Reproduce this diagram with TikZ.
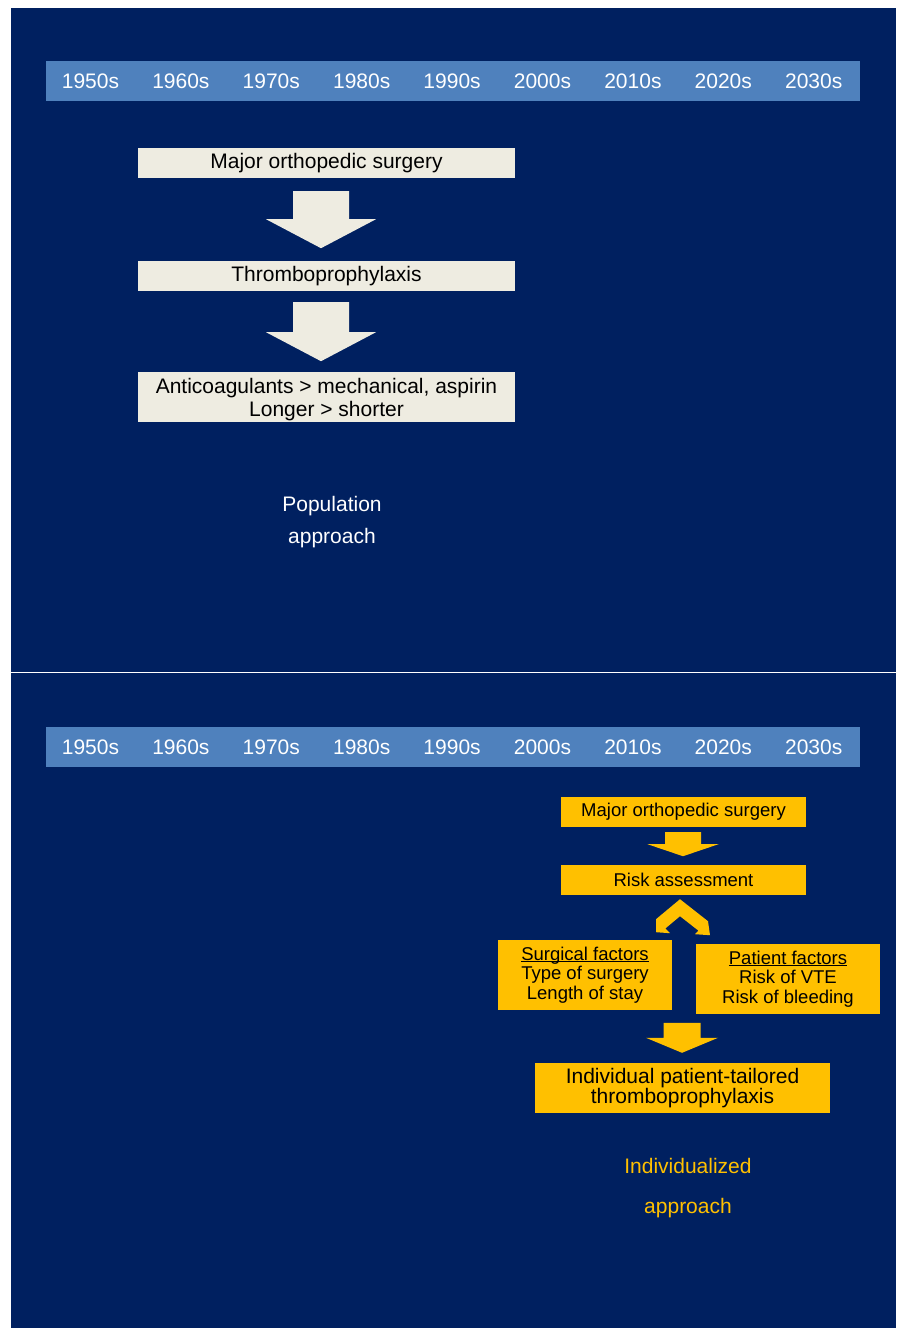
\documentclass[tikz,border=0pt]{standalone}
\usepackage{fontspec}
\setmainfont{Liberation Sans}
\usetikzlibrary{positioning}
\definecolor{navy}{HTML}{002060}
\definecolor{barblue}{HTML}{4F81BD}
\definecolor{cream}{HTML}{EEECE1}
\definecolor{gold}{HTML}{FFC000}
\newcommand{\ulbox}[1]{\setbox0=\hbox{#1}\rlap{\rule[-2pt]{\wd0}{1pt}}\box0}
\tikzset{
    yearlbl/.style={text=white,inner sep=0pt,font=\fontsize{21}{24}\selectfont},
    creambox/.style={fill=cream,minimum width=377pt,inner sep=0pt,align=center,font=\fontsize{21}{23}\selectfont},
    goldbox/.style={fill=gold,inner sep=0pt,align=center,font=\fontsize{18.5}{19.6}\selectfont},
}
\begin{document}
\begin{tikzpicture}[x=1pt,y=-1pt]
        \useasboundingbox (0,0) rectangle (898,1328);
        \fill[white] (0,0) rectangle (898,1328);
        \fill[navy] (11,8) rectangle (896,672);
        \fill[navy] (11,673) rectangle (896,1328);
        \foreach \by/\nm in {81/top,747/bot}{
            \node[fill=barblue,minimum width=814pt,minimum height=40pt,inner sep=0pt] (bar\nm) at (453,\by) {};
            \foreach \yr [count=\i from 0] in {1950,1960,...,2030}
                \node[yearlbl] (\nm\yr) at (90.5+90.4*\i,\by) {\yr s};
        }
        \node[creambox,minimum height=30pt] (maj) at (326.5,163) {Major orthopedic surgery};
        \node[creambox,minimum height=30pt] (thr) at (326.5,276) {Thromboprophylaxis};
        \node[creambox,minimum height=50pt,text depth=-1.5pt] (anti) at (326.5,397) {Anticoagulants > mechanical, aspirin\\Longer > shorter};
        \path (maj.south) ++(-5.5,13) coordinate (a1);
        \fill[cream] (a1) ++(-28,0) -- ++(56,0) -- ++(0,28) -- ++(27,0) -- ++(-55,29) -- ++(-55,-29) -- ++(27,0) -- cycle;
        \path (thr.south) ++(-5.5,11) coordinate (a2);
        \fill[cream] (a2) ++(-28,0) -- ++(56,0) -- ++(0,30) -- ++(27,0) -- ++(-55,29) -- ++(-55,-29) -- ++(27,0) -- cycle;
        \node[text=white,align=center,font=\fontsize{21}{31.5}\selectfont] (popu) at (332,522) {Population\\approach};
        \begin{scope}
            \node[goldbox,minimum width=245pt,minimum height=30pt] (bmaj) at (683.5,812) {Major orthopedic surgery};
            \node[goldbox,minimum width=245pt,minimum height=30pt] (risk) at (683.5,880) {Risk assessment};
            \node[goldbox,minimum width=174pt,minimum height=70pt] (surg) at (585,975) {\ulbox{Surgical factors}\\Type of surgery\\Length of stay};
            \node[goldbox,minimum width=184pt,minimum height=70pt] (pat) at (788,979) {\ulbox{Patient factors}\\Risk of VTE\\Risk of bleeding};
            \node[goldbox,minimum width=295pt,minimum height=50pt,font=\fontsize{21}{19.5}\selectfont] (indiv) at (682.5,1088) {Individual patient-tailored\\thromboprophylaxis};
            \path (bmaj.south) ++(-0.5,5) coordinate (b1);
            \fill[gold] (b1) ++(-18,0) -- ++(36,0) -- ++(0,12) -- ++(17.5,0) -- ++(-35.5,12) -- ++(-35.5,-12) -- ++(17.5,0) -- cycle;
            \path (risk.south) ++(-3.5,4) coordinate (apex);
            \fill[gold] (apex) -- +(-24,20) -- +(-24,33) -- +(-10,34) -- +(-14.7,29.3) -- +(0,17) -- +(18.5,31.5) -- +(15,35) -- +(30,36) -- +(28,22) -- cycle;
            \path (indiv.north) ++(-0.5,-40) coordinate (b2);
            \fill[gold] (b2) ++(-18.5,0) -- ++(37,0) -- ++(0,15) -- ++(17.5,0) -- ++(-36,15) -- ++(-36,-15) -- ++(17.5,0) -- cycle;
            \node[text=gold,align=center,font=\fontsize{21}{40}\selectfont] (indap) at (688,1188.5) {Individualized\\approach};
        \end{scope}
\end{tikzpicture}
\end{document}
